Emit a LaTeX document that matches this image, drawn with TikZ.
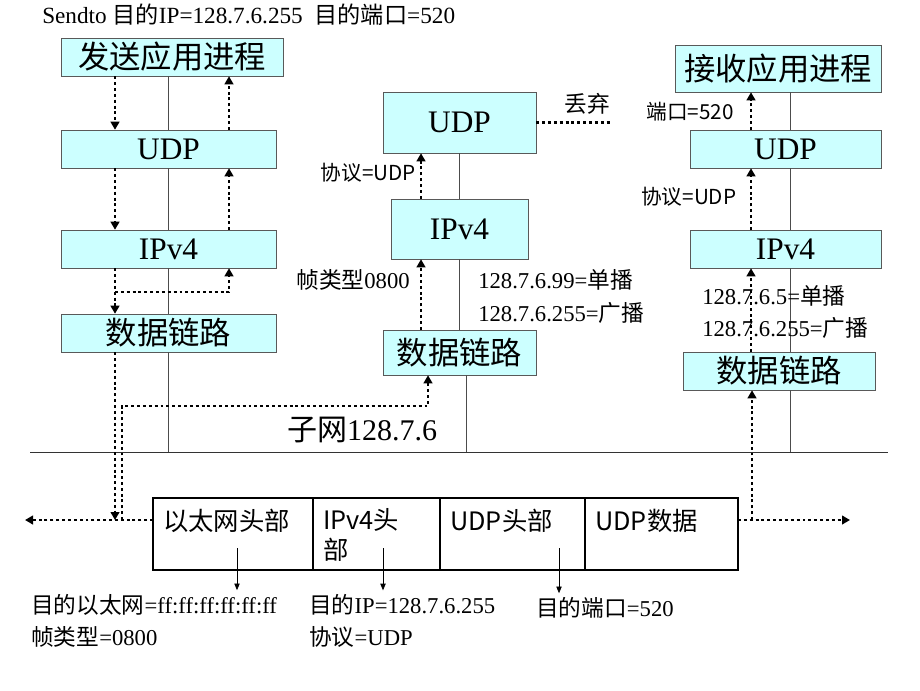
\documentclass[tikz,border=0pt]{standalone}
\usepackage{fontspec}
\setmainfont{Liberation Serif}
\newfontfamily\zhfont{Noto Sans CJK SC}
\usetikzlibrary{arrows.meta}
\newcommand{\zh}[1]{{\zhfont #1}}
\definecolor{layerfill}{HTML}{CCFFFF}

\begin{document}
\begin{tikzpicture}
  [x = .75pt, y = -.75pt,
   layer/.style = {draw = black!65, fill = layerfill, inner sep = 0pt, font = \fontsize{23.5}{25}\selectfont},
   note/.style = {inner sep = 0pt, font = \fontsize{17}{19}\selectfont},
   snote/.style = {inner sep = 0pt, font = \zhfont\fontsize{15.5}{18}\selectfont},
   wire/.style = {black!70, line width = .6pt},
   flow/.style = {line width = 2.2pt, dash pattern = on 2.2pt off 2.2pt, -{Triangle[length = 6pt, width = 6.5pt]}},
   cell/.style = {draw, line width = 1pt, outer sep = 0pt, inner sep = 0pt, minimum height = 54pt, anchor = north west},
   celltext/.style = {inner sep = 0pt, anchor = north west, align = left, font = \zhfont\fontsize{19}{22}\selectfont},
   pointer/.style = {line width = .6pt, shorten > = 3pt, -{Triangle[length = 5pt, width = 4pt]}}]
  \useasboundingbox (0,0) rectangle (920,690);

  \coordinate (netL) at (30,452);
  \coordinate (netR) at (888,452);
  \coordinate (lend) at (25,520);
  \coordinate (rend) at (850,520);
  \coordinate (ldn) at (115,0);
  \coordinate (lup) at (229,0);
  \coordinate (lturn) at (115,292);
  \coordinate (ltap) at (122,520);
  \coordinate (mbend) at (428,406);
  \coordinate (mup) at (421,0);
  \coordinate (mwire) at (466,0);
  \coordinate (drop) at (612,122.5);
  \coordinate (rup) at (751,0);
  \coordinate (rwire) at (790,0);
  \coordinate (rtap) at (752,520);

  \node[note, anchor = west, font = \fontsize{17.4}{19}\selectfont] (title) at (42,15) {Sendto \zh{目的}IP=128.7.6.255\ \ \zh{目的端口}=520};

  \node[layer, minimum width = 166.5pt, minimum height = 28.5pt] (sapp) at (172,57) {\zh{发送应用进程}};
  \node[layer, minimum width = 161.25pt, minimum height = 28.5pt] (sudp) at (168.5,149) {UDP};
  \node[layer, minimum width = 161.25pt, minimum height = 28.5pt] (sip) at (168.5,249) {IPv4};
  \node[layer, minimum width = 161.25pt, minimum height = 28.5pt] (sdl) at (168.5,333) {\zh{数据链路}};

  \node[layer, minimum width = 114.75pt, minimum height = 45.75pt] (mudp) at (459.5,122.5) {UDP};
  \node[layer, minimum width = 102.75pt, minimum height = 45pt] (mip) at (459.5,229) {IPv4};
  \node[layer, minimum width = 114.75pt, minimum height = 33.75pt] (mdl) at (459.5,352.5) {\zh{数据链路}};

  \node[layer, minimum width = 154.5pt, minimum height = 35.25pt] (rapp) at (778,68.5) {\zh{接收应用进程}};
  \node[layer, minimum width = 143.25pt, minimum height = 28.5pt] (rudp) at (785.5,149) {UDP};
  \node[layer, minimum width = 143.25pt, minimum height = 28.5pt] (rip) at (785.5,249) {IPv4};
  \node[layer, minimum width = 144pt, minimum height = 28.5pt] (rdl) at (779,371) {\zh{数据链路}};

  \draw[wire] (sapp.south -| sudp.north) -- (sudp.north);
  \draw[wire] (sudp.south) -- (sip.north);
  \draw[wire] (sip.south) -- (sdl.north);
  \draw[wire] (sdl.south) -- (sdl.south |- netL);
  \draw[wire] (mudp.south) -- (mip.north);
  \draw[wire] (mip.south) -- (mdl.north);
  \draw[wire] (mdl.south -| mwire) -- (mwire |- netL);
  \draw[wire] (rapp.south -| rwire) -- (rudp.north -| rwire);
  \draw[wire] (rudp.south -| rwire) -- (rip.north -| rwire);
  \draw[wire] (rip.south -| rwire) -- (rdl.north -| rwire);
  \draw[wire] (rdl.south -| rwire) -- (rwire |- netL);
  \draw[black!80, line width = .7pt] (netL) -- (netR);
  \node[inner sep = 0pt, font = \fontsize{22.5}{24}\selectfont] (subnet) at (362,430) {\zh{子网}128.7.6};

  \node[cell, minimum width = 120pt] (eth) at (153,498) {};
  \node[cell, minimum width = 95.25pt] (iph) at (eth.north east) {};
  \node[cell, minimum width = 108.75pt] (udph) at (iph.north east) {};
  \node[cell, minimum width = 114.75pt] (udpd) at (udph.north east) {};
  \draw[line width = 1.6pt] (eth.north west) rectangle (udpd.south east);
  \node[celltext] (ethtxt) at ([shift = {(7.5pt,-8pt)}]eth.north west) {以太网头部};
  \node[celltext] (iphtxt) at ([shift = {(7.5pt,-8pt)}]iph.north west) {IPv4头\\部};
  \node[celltext] (udphtxt) at ([shift = {(7.5pt,-8pt)}]udph.north west) {UDP头部};
  \node[celltext] (udpdtxt) at ([shift = {(7.5pt,-8pt)}]udpd.north west) {UDP数据};

  \draw[flow] (sapp.south -| ldn) -- (sudp.north -| ldn);
  \draw[flow] (sudp.south -| ldn) -- (sip.north -| ldn);
  \draw[flow] (sip.south -| ldn) -- (sdl.north -| ldn);
  \draw[flow] (sudp.north -| lup) -- (sapp.south -| lup);
  \draw[flow] (sip.north -| lup) -- (sudp.south -| lup);
  \draw[flow] (lturn) -| (sip.south -| lup);
  \draw[flow] (sdl.south -| ldn) -- (ldn |- lend);
  \draw[flow] (lend -| eth.west) -- (lend);
  \draw[flow] (ltap) |- (mbend) -- (mbend |- mdl.south);

  \draw[flow] (mdl.north -| mup) -- (mip.south -| mup);
  \draw[flow] (mip.north -| mup) -- (mudp.south -| mup);
  \draw[flow, -] (mudp.east) -- (drop);

  \draw[flow] (rend -| udpd.east) -- (rend);
  \draw[flow] (rtap) -- (rtap |- rdl.south);
  \draw[flow] (rdl.north -| rup) -- (rip.south -| rup);
  \draw[flow] (rip.north -| rup) -- (rudp.south -| rup);
  \draw[flow] (rudp.north -| rup) -- (rapp.south -| rup);

  \node[snote, anchor = east] (mproto) at (416,173) {\zh{协议}=UDP};
  \node[note, anchor = east] (mtype) at (410,280) {\zh{帧类型}0800};
  \node[note, anchor = west] (muni) at (478,280) {128.7.6.99=\zh{单播}};
  \node[note, anchor = west] (mbcast) at (478,313) {128.7.6.255=\zh{广播}};
  \node[note] (discard) at (587,104) {\zh{丢弃}};

  \node[snote, anchor = east] (rport) at (734,112) {\zh{端口}=520};
  \node[snote, anchor = west] (rproto) at (641,197) {\zh{协议}=UDP};
  \node[note, anchor = west] (runi) at (702,296) {128.7.6.5=\zh{单播}};
  \node[note, anchor = west] (rbcast) at (702,328) {128.7.6.255=\zh{广播}};

  \node[note, anchor = west] (dstmac) at (31,605) {\zh{目的以太网}=ff:ff:ff:ff:ff:ff};
  \node[note, anchor = west] (ftype) at (31,637) {\zh{帧类型}=0800};
  \node[note, anchor = west] (dstip) at (309,605) {\zh{目的}IP=128.7.6.255};
  \node[note, anchor = west] (proto) at (309,637) {\zh{协议}=UDP};
  \node[note, anchor = west] (dstport) at (536,608) {\zh{目的端口}=520};

  \coordinate (ethptr) at (237,548);
  \coordinate (ipptr) at (383,548);
  \coordinate (udpptr) at (559,548);
  \draw[pointer] (ethptr) -- (ethptr |- dstmac.north);
  \draw[pointer] (ipptr) -- (ipptr |- dstip.north);
  \draw[pointer] (udpptr) -- (udpptr |- dstport.north);
\end{tikzpicture}
\end{document}
